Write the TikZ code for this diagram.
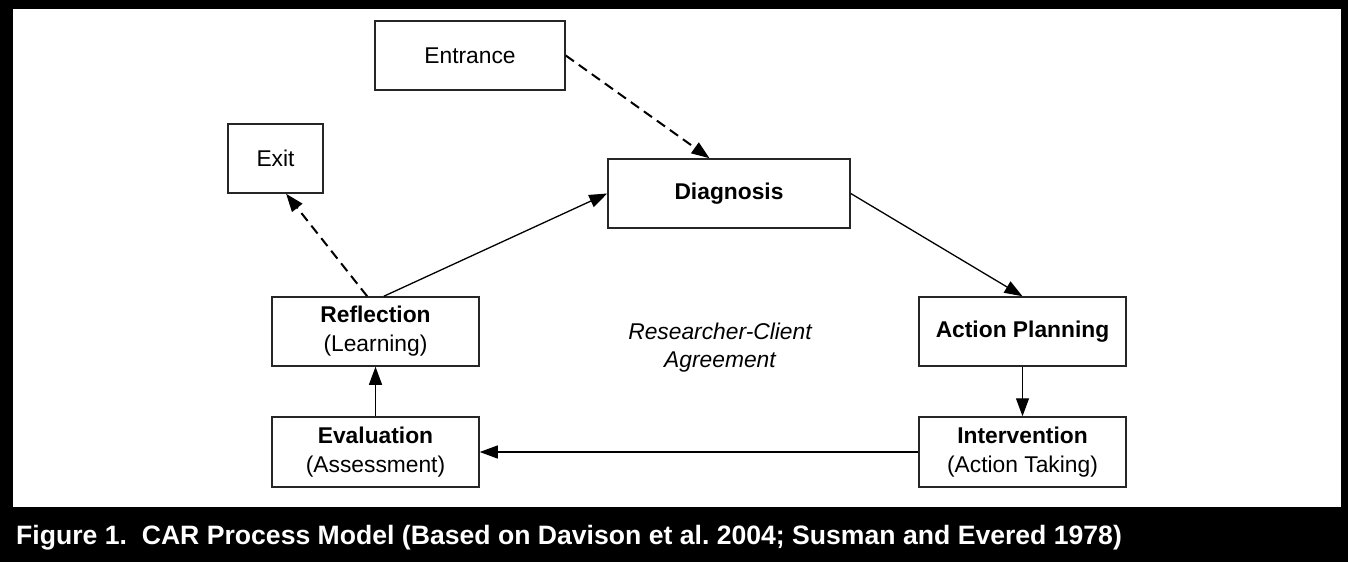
\documentclass[tikz,border=0pt]{standalone}
\usepackage{fontspec}
\setmainfont{Liberation Sans}
\usetikzlibrary{arrows.meta,calc}
\frenchspacing
\begin{document}
\begin{tikzpicture}[x=1pt,y=-1pt,
  box/.style={draw=black!85, line width=1.5pt, fill=white, minimum height=69pt,
    inner sep=0pt, align=center, font=\fontsize{22.8}{29}\selectfont},
  flow/.style={line width=1.3pt, -{Triangle[length=18pt,width=13pt]}},
  dashflow/.style={flow, line width=2pt, dash pattern=on 10pt off 6pt},
  agreement/.style={font=\fontsize{22.8}{28}\selectfont\itshape, align=center},
  caption/.style={anchor=base west, text=white, inner sep=0pt,
    font=\fontsize{26.6}{30}\selectfont\bfseries}]
  % frame: black surround with caption band, white drawing area
  \useasboundingbox (0,0) rectangle (1348,562);
  \fill[black] (0,0) rectangle (1348,562);
  \fill[white] (12.5,9.3) rectangle (1340.7,507);

  % process steps
  \node[box, minimum width=190pt] (entr) at (470,55.5) {Entrance};
  \node[box, minimum width=95pt] (exit) at (275.5,158.5) {Exit};
  \node[box, minimum width=242pt] (diag) at (729,193.5) {\textbf{Diagnosis}};
  \node[box, minimum width=207pt] (plan) at (1022.5,331.5) {\textbf{Action Planning}};
  \node[box, minimum width=207pt, minimum height=70pt] (interv) at (1022.5,452)
    {\textbf{Intervention}\\(Action Taking)};
  \node[box, minimum width=207pt] (refl) at (375.5,331.5)
    {\textbf{Reflection}\\(Learning)};
  \node[box, minimum width=207pt, minimum height=70pt] (eval) at (375.5,452)
    {\textbf{Evaluation}\\(Assessment)};
  \node[agreement] (agree) at (720,348) {Researcher-Client\\Agreement};

  % cycle and entry/exit connectors
  \draw[dashflow] (entr.east) -- ($(diag.north west)!0.42!(diag.north east)$);
  \draw[dashflow] ($(refl.north west)!0.46!(refl.north east)$)
    -- ($(exit.south west)!0.61!(exit.south east)$);
  \draw[flow] ($(refl.north west)!0.54!(refl.north east)$) -- (diag.west);
  \draw[flow] (diag.east) -- (plan.north);
  \draw[flow] (plan.south) -- (interv.north);
  \draw[flow] (interv.west) -- (eval.east);
  \draw[flow] (eval.north) -- (refl.south);

  % caption
  \node[caption] (cap) at (16,544.5)
    {Figure 1.\ \ CAR Process Model (Based on Davison et al. 2004; Susman and Evered 1978)};
\end{tikzpicture}
\end{document}
